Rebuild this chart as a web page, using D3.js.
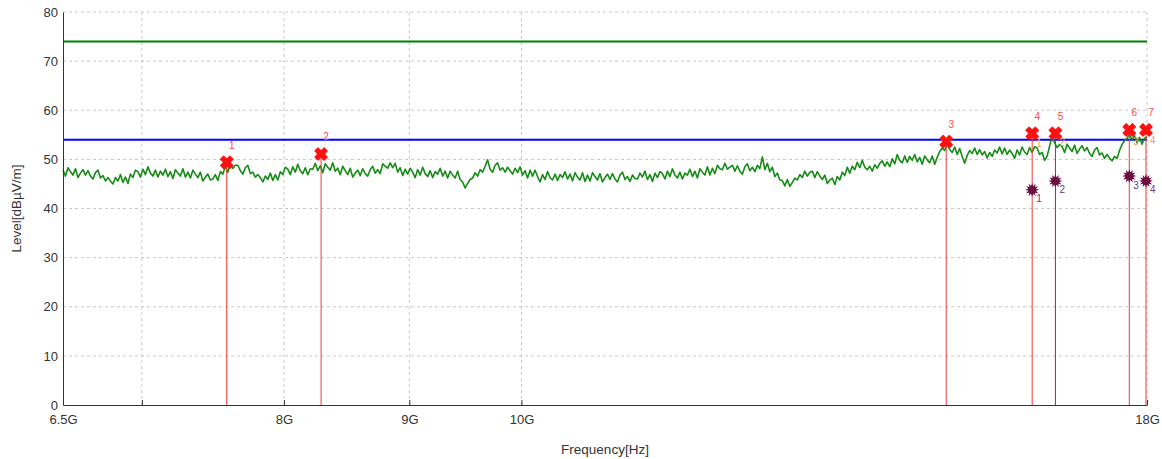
<!DOCTYPE html>
<html>
<head>
<meta charset="utf-8">
<script src="https://cdn.jsdelivr.net/npm/d3@7"></script>
<style>
  body { margin: 0; background: #fff; }
  svg text { font-family: "Liberation Sans", Arial, sans-serif; }
</style>
</head>
<body>
<svg id="chart" width="1162" height="459"></svg>
<script>
// Sweep settings (log-spaced receiver points)
const sweepStartHz = 6.5e9;
const sweepStopHz = 18e9;

// Measured level trace, dBµV/m, one value per sweep point
const traceLevels = [
  47.8, 46.6, 48.3, 47.5, 46.8, 48.1, 46.3, 47.2, 47.9, 46.8,
  47.7, 46.6, 46.0, 47.3, 47.8, 46.2, 46.7, 45.6, 46.3, 45.6,
  45.0, 46.3, 45.6, 46.9, 45.3, 46.4, 45.1, 47.0, 46.3, 47.8,
  47.5, 46.4, 48.0, 46.9, 48.5, 47.2, 46.6, 47.8, 46.4, 47.6,
  46.8, 48.0, 46.5, 47.5, 46.1, 47.9, 47.2, 46.6, 48.1, 46.4,
  47.4, 46.2, 47.8, 47.0, 46.3, 47.4, 45.6, 46.4, 47.0, 45.8,
  46.0, 46.9, 45.7, 47.5, 47.0, 48.6, 47.4, 49.0, 48.2, 48.8,
  48.8, 47.7, 47.0, 48.3, 48.8, 47.1, 47.4, 46.4, 46.9, 46.3,
  45.4, 46.6, 45.9, 47.2, 45.7, 46.9, 45.8, 47.5, 46.9, 48.4,
  48.0, 46.9, 48.5, 47.4, 49.0, 47.7, 47.1, 48.3, 46.9, 48.1,
  48.0, 49.2, 47.7, 48.7, 47.3, 49.1, 48.4, 47.8, 49.3, 47.6,
  48.2, 46.9, 48.6, 47.7, 46.9, 48.2, 46.4, 47.2, 47.8, 46.7,
  48.1, 47.1, 46.6, 47.9, 48.6, 47.2, 47.9, 47.1, 49.1, 48.6,
  48.2, 49.3, 48.3, 49.2, 47.4, 48.3, 46.7, 48.0, 47.0, 48.2,
  47.4, 46.3, 47.9, 46.8, 48.4, 47.1, 46.5, 47.7, 46.3, 47.5,
  47.0, 48.2, 46.6, 47.6, 46.2, 47.6, 46.8, 46.2, 47.6, 45.9,
  45.4, 44.2, 45.1, 45.9, 46.2, 47.3, 46.6, 47.9, 47.4, 48.6,
  49.9, 48.0, 47.4, 48.8, 49.3, 47.8, 48.3, 47.4, 48.4, 47.7,
  47.0, 48.2, 47.3, 48.5, 46.8, 47.7, 46.2, 47.8, 46.6, 47.8,
  46.5, 45.4, 46.9, 45.9, 47.5, 46.3, 45.8, 47.0, 45.7, 46.9,
  46.3, 47.5, 46.0, 47.0, 45.6, 47.3, 46.4, 45.8, 47.3, 45.5,
  46.8, 45.6, 47.3, 46.5, 45.8, 47.1, 45.4, 46.3, 47.0, 45.9,
  47.1, 46.0, 45.4, 46.8, 47.4, 45.9, 46.5, 45.5, 46.8, 46.1,
  46.0, 47.2, 46.4, 47.6, 45.9, 46.9, 45.5, 47.2, 46.3, 47.5,
  47.1, 46.0, 47.6, 46.5, 48.1, 46.8, 46.2, 47.4, 46.0, 47.2,
  46.8, 48.0, 46.5, 47.6, 46.2, 48.1, 47.4, 46.8, 48.5, 46.8,
  48.2, 47.1, 48.8, 48.1, 47.9, 49.2, 48.0, 48.4, 48.8, 47.6,
  48.7, 47.6, 47.0, 48.5, 49.1, 47.7, 48.4, 47.5, 48.8, 48.1,
  50.5, 47.9, 49.2, 47.5, 48.4, 46.5, 47.2, 45.8, 45.7, 44.6,
  45.9, 44.5, 45.3, 46.2, 45.8, 46.9, 46.3, 47.6, 46.6, 47.4,
  47.6, 46.3, 47.5, 46.6, 45.9, 46.8, 45.1, 45.8, 46.2, 44.9,
  46.5, 45.8, 47.4, 46.7, 48.4, 47.2, 48.6, 47.9, 49.4, 48.3,
  49.8, 48.4, 47.9, 48.6, 47.6, 48.9, 48.2, 49.2, 49.7, 48.6,
  49.5, 48.5, 50.1, 49.1, 51.0, 49.8, 49.3, 50.7, 49.4, 50.6,
  49.8, 51.0, 49.5, 50.4, 49.0, 50.7, 49.9, 49.3, 50.7, 49.0,
  50.4, 51.6, 52.3, 51.8, 53.2, 52.0, 51.4, 52.5, 51.0, 52.2,
  50.6, 49.2, 50.8, 51.8, 51.2, 52.3, 51.0, 52.0, 50.9, 51.6,
  50.3, 51.4, 50.6, 51.9, 51.3, 52.5, 51.1, 52.3, 51.0, 51.9,
  51.2, 50.2, 51.9, 50.9, 52.5, 51.5, 51.0, 52.4, 51.4, 52.6,
  52.3, 51.0, 51.4, 49.8, 50.6, 52.7, 54.6, 53.4, 52.4, 53.0,
  52.6, 51.4, 53.1, 52.3, 51.6, 52.9, 51.2, 52.1, 52.8, 51.7,
  52.4, 51.2, 50.6, 51.9, 52.4, 50.9, 51.3, 50.2, 51.0, 50.3,
  49.7, 50.6, 50.2, 51.8, 53.0, 53.8, 54.3, 55.1, 54.0, 54.8,
  53.4, 54.5, 53.1, 54.3, 54.6
];

// Peak detector markers
const peakFreqGHz = [7.581, 8.284, 14.905, 16.159, 16.516, 17.703, 17.983];
const peakLevels  = [49.4, 51.1, 53.6, 55.3, 55.3, 56.0, 56.0];

// Quasi-peak markers
const qpFreqGHz = [16.159, 16.516, 17.703, 17.983];
const qpLevels  = [43.8, 45.6, 46.6, 45.6];

// Average markers
const avgFreqGHz = [16.159, 16.516, 17.703, 17.983];
const avgLevels  = [55.1, 55.3, 55.5, 55.7];

// Limit lines
const limitPeakLevel = 74;
const limitAvgLevel = 54;

// Axes
const yTickValues = [0, 10, 20, 30, 40, 50, 60, 70, 80];
const xGridGHz = [7, 8, 9, 10, 18];
const xTickGHz = [6.5, 7, 8, 9, 10, 18];
const xTickLabels = ["6.5G", "", "8G", "9G", "10G", "18G"];

const svg = d3.select("#chart");
const plotLeft = 63, plotRight = 1147, plotTop = 12, plotBottom = 405;

const x = d3.scaleLog().domain([sweepStartHz, sweepStopHz]).range([plotLeft, plotRight]);
const y = d3.scaleLinear().domain([0, 80]).range([plotBottom, plotTop]);

// Dashed grid
const grid = svg.append("g");
grid.selectAll("line.h").data(yTickValues.filter(v => v > 0)).join("line")
  .attr("class", "h")
  .attr("x1", plotLeft).attr("x2", plotRight)
  .attr("y1", d => y(d)).attr("y2", d => y(d))
  .attr("stroke", "#c8c8c8").attr("stroke-dasharray", "3,3");
grid.selectAll("line.v").data(xGridGHz).join("line")
  .attr("class", "v")
  .attr("x1", d => x(d * 1e9)).attr("x2", d => x(d * 1e9))
  .attr("y1", plotTop).attr("y2", plotBottom)
  .attr("stroke", "#c8c8c8").attr("stroke-dasharray", "3,3");

// Limit lines
[[limitPeakLevel, "#008000"], [limitAvgLevel, "#0000ff"]].forEach(([lv, c]) => {
  svg.append("line")
    .attr("x1", plotLeft).attr("x2", plotRight)
    .attr("y1", y(lv)).attr("y2", y(lv))
    .attr("stroke", c).attr("stroke-width", 2);
});

// Level trace
const n = traceLevels.length;
const ratio = sweepStopHz / sweepStartHz;
const traceData = traceLevels.map((v, i) => [sweepStartHz * Math.pow(ratio, i / (n - 1)), v]);
svg.append("path")
  .datum(traceData)
  .attr("fill", "none")
  .attr("stroke", "#168b16")
  .attr("stroke-width", 1.6)
  .attr("stroke-linejoin", "round")
  .attr("d", d3.line().x(d => x(d[0])).y(d => y(d[1])));

// Marker drop lines
const peaks = peakFreqGHz.map((f, i) => ({ f: f * 1e9, v: peakLevels[i], n: i + 1 }));
const qps = qpFreqGHz.map((f, i) => ({ f: f * 1e9, v: qpLevels[i], n: i + 1 }));
const avgs = avgFreqGHz.map((f, i) => ({ f: f * 1e9, v: avgLevels[i], n: i + 1 }));

svg.append("g").selectAll("line").data(peaks).join("line")
  .attr("x1", d => x(d.f)).attr("x2", d => x(d.f))
  .attr("y1", d => y(d.v)).attr("y2", plotBottom)
  .attr("stroke", d => (d.n === 5 ? "#a82838" : "#f03a3a")).attr("stroke-width", 1);

// Average marker labels
svg.append("g").selectAll("text").data(avgs).join("text")
  .attr("x", d => x(d.f) + 4).attr("y", d => y(d.v) + 9)
  .attr("dy", "0.35em")
  .attr("font-size", 10).attr("fill", "#f5a050")
  .text(d => d.n);

// Peak markers: bold X
const xMark = d3.symbol().type(d3.symbolCross).size(95);
svg.append("g").selectAll("path").data(peaks).join("path")
  .attr("transform", d => `translate(${x(d.f)},${y(d.v)}) rotate(45)`)
  .attr("d", xMark)
  .attr("fill", "#ff1010")
  .attr("stroke", "#ff1010").attr("stroke-width", 1.2).attr("stroke-linejoin", "round");
svg.append("g").selectAll("text").data(peaks).join("text")
  .attr("x", d => x(d.f) + 5).attr("y", d => y(d.v) - 17)
  .attr("dy", "0.35em").attr("text-anchor", "middle")
  .attr("font-size", 10).attr("fill", "#ff4a4a")
  .text(d => d.n);

// Quasi-peak markers: starburst
function starPath(rOut, rIn, spikes) {
  const pts = [];
  for (let k = 0; k < spikes * 2; k++) {
    const r = k % 2 === 0 ? rOut : rIn;
    const a = (Math.PI / spikes) * k - Math.PI / 2;
    pts.push([r * Math.cos(a), r * Math.sin(a)]);
  }
  return "M" + pts.map(p => p[0].toFixed(2) + "," + p[1].toFixed(2)).join("L") + "Z";
}
svg.append("g").selectAll("path").data(qps).join("path")
  .attr("transform", d => `translate(${x(d.f)},${y(d.v)})`)
  .attr("d", starPath(7, 4, 12))
  .attr("fill", "#6e0f42");
svg.append("g").selectAll("text").data(qps).join("text")
  .attr("x", d => x(d.f) + 4).attr("y", d => y(d.v) + 9)
  .attr("dy", "0.35em")
  .attr("font-size", 10).attr("fill", "#6a3a7a")
  .text(d => d.n);

// Axes
const xAxis = d3.axisBottom(x)
  .tickValues(xTickGHz.map(v => v * 1e9))
  .tickFormat((d, i) => xTickLabels[i])
  .tickSizeInner(-5).tickSizeOuter(0).tickPadding(10);
const gx = svg.append("g").attr("transform", `translate(0,${plotBottom})`).call(xAxis);
gx.select(".domain").attr("stroke", "#333");
gx.selectAll(".tick line").attr("stroke", "#333");
gx.selectAll("text").attr("font-size", 13).attr("fill", "#333")
  .style("font-family", '"Liberation Sans", Arial, sans-serif');

const yAxis = d3.axisLeft(y).tickValues(yTickValues).tickSize(0).tickPadding(5);
const gy = svg.append("g").attr("transform", `translate(${plotLeft},0)`).call(yAxis);
gy.select(".domain").attr("stroke", "#333");
gy.selectAll("text").attr("font-size", 13).attr("fill", "#333")
  .style("font-family", '"Liberation Sans", Arial, sans-serif');

// Axis titles
svg.append("text")
  .attr("transform", `translate(16,${(plotTop + plotBottom) / 2}) rotate(-90)`)
  .attr("text-anchor", "middle").attr("dy", "0.35em")
  .attr("font-size", 13.5).attr("fill", "#333")
  .text("Level[dBµV/m]");
svg.append("text")
  .attr("x", (plotLeft + plotRight) / 2).attr("y", 449)
  .attr("text-anchor", "middle").attr("dy", "0.35em")
  .attr("font-size", 13.5).attr("fill", "#333")
  .text("Frequency[Hz]");
</script>
</body>
</html>
